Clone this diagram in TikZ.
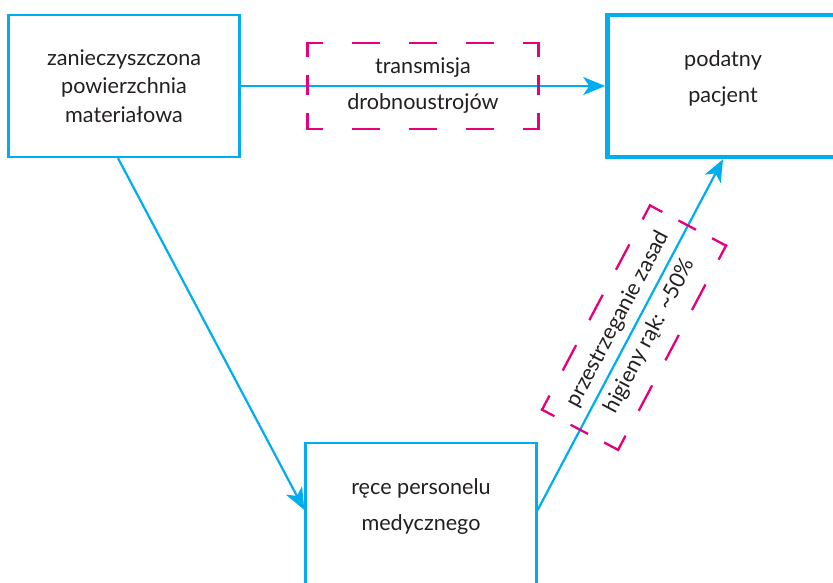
\documentclass[tikz,border=0pt]{standalone}
\usepackage{fontspec}
\setmainfont{Lato}
\usetikzlibrary{arrows.meta,positioning,calc}
\definecolor{flow}{RGB}{0,174,239}
\definecolor{note}{RGB}{230,0,126}
\definecolor{ink}{RGB}{35,31,32}

\begin{document}
\begin{tikzpicture}[
      x=1pt, y=-1pt,
      box/.style={draw=flow, line width=2.3pt, minimum width=231pt,
        minimum height=142pt, inner sep=0pt},
      txt/.style={font=\fontsize{21.6}{36}\selectfont, text=ink,
        align=center, inner sep=0pt},
      tag/.style={txt, minimum width=231pt, minimum height=86pt, outer sep=0pt},
      link/.style={-{Stealth[length=22pt, width=18pt, inset=6pt]}, flow, line width=2.2pt},
      longdash/.style={note, line width=2.3pt, line cap=rect,
        dash pattern=on 26.5pt off 30.5pt, dash phase=11.7pt},
      shortdash/.style={note, line width=2.3pt, line cap=rect,
        dash pattern=on 17.5pt off 20.5pt, dash phase=4.65pt}
    ]
      \useasboundingbox (0,0) rectangle (833,582);

      % boxes
      \node[box, txt, font=\fontsize{21.6}{28.7}\selectfont] (surface) at (124,86)
        {zanieczyszczona\\powierzchnia\\materiałowa};
      \node[box, line width=4.6pt] (patient) at (723,86) {};
      \node[box, minimum height=170pt, anchor=north] (hands) at (421,442) {};
      \node[txt, below=38pt of patient.north] (patienttext) {podatny\\pacjent};
      \node[txt, below=36pt of hands.north] (handstext) {ręce personelu\\medycznego};

      % transmission paths
      \draw[link] (surface) -- (patient)
        node[tag, midway] (transfer) {transmisja\\drobnoustrojów};
      \draw[link] ($(surface.south)+(-6,0)$) -- ($(hands.north west)+(0,68)$);
      \draw[link] ($(hands.north east)+(0,68)$) -- (patient.south)
        node[tag, sloped, pos=0.52] (hygiene)
        {przestrzeganie zasad\\higieny rąk: \textasciitilde50\%};

      % dashed frames
      \foreach \n in {transfer, hygiene} {
        \draw[longdash] (\n.north west) -- (\n.north east);
        \draw[longdash] (\n.south west) -- (\n.south east);
        \draw[shortdash] (\n.north west) -- (\n.south west);
        \draw[shortdash] (\n.north east) -- (\n.south east);
      }
    \end{tikzpicture}
\end{document}
